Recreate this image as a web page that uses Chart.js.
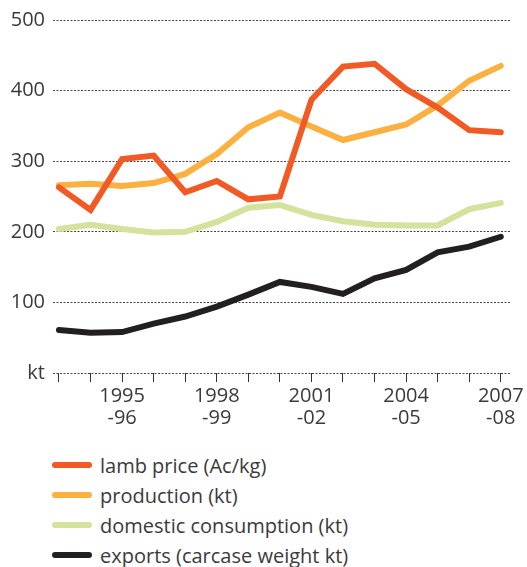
<!DOCTYPE html>
<html>
<head>
<meta charset="utf-8">
<script src="https://cdn.jsdelivr.net/npm/chart.js@4.4.1/dist/chart.umd.min.js"></script>
<style>
    body { margin: 0; background: #fff; font-family: "Open Sans", sans-serif; }
    .wrap { position: relative; width: 527px; height: 567px; }
    .chart-box { position: absolute; left: 0; top: 0; width: 527px; height: 432px; }
    .legend { position: absolute; left: 52px; top: 450px; }
    .legend-item { display: flex; align-items: center; height: 30px; font-size: 20px; color: #3a3a3a; }
    .legend-item .swatch { width: 40px; height: 6px; border-radius: 3px; margin-right: 8px; }
</style>
</head>
<body>
<div class="wrap">
    <div class="chart-box"><canvas id="lambChart"></canvas></div>
    <div class="legend" id="legend"></div>
</div>
<script>
    // Seasons 1993-94 .. 2007-08
    const seasons = ['1993-94', '1994-95', '1995-96', '1996-97', '1997-98', '1998-99', '1999-00',
        '2000-01', '2001-02', '2002-03', '2003-04', '2004-05', '2005-06', '2006-07', '2007-08'];
    const labelledSeasons = ['1995-96', '1998-99', '2001-02', '2004-05', '2007-08'];

    const lambPrice = [263, 231, 303, 308, 256, 272, 246, 250, 387, 434, 438, 402, 376, 344, 341];
    const production = [266, 268, 265, 269, 282, 310, 348, 369, 349, 330, 341, 352, 379, 414, 435];
    const consumption = [204, 210, 204, 199, 200, 214, 234, 238, 224, 215, 210, 209, 209, 232, 241];
    const exportsKt = [61, 57, 58, 70, 80, 94, 111, 129, 122, 112, 134, 146, 171, 179, 193];

    const yTicks = [0, 100, 200, 300, 400, 500];

    const toPoints = values => values.map((v, i) => ({ x: i, y: v }));

    function makeSet(label, values, color) {
        return {
            label: label,
            data: toPoints(values),
            borderColor: color,
            backgroundColor: color,
            borderWidth: 6,
            borderCapStyle: 'round',
            borderJoinStyle: 'miter',
            pointRadius: 0,
            tension: 0,
            fill: false
        };
    }

    const textColor = '#3a3a3a';
    const ctx = document.getElementById('lambChart').getContext('2d');
    const lambChart = new Chart(ctx, {
        type: 'line',
        data: {
            datasets: [
                makeSet('lamb price (Ac/kg)', lambPrice, '#f15a24'),
                makeSet('production (kt)', production, '#fbb040'),
                makeSet('domestic consumption (kt)', consumption, '#d3e29c'),
                makeSet('exports (carcase weight kt)', exportsKt, '#231f20')
            ]
        },
        options: {
            responsive: true,
            maintainAspectRatio: false,
            animation: false,
            layout: { padding: { top: 15, right: 16, bottom: 0, left: 0 } },
            plugins: {
                legend: { display: false },
                tooltip: { enabled: false }
            },
            scales: {
                x: {
                    type: 'linear',
                    min: -0.19,
                    max: 14.32,
                    border: { display: false },
                    grid: {
                        drawOnChartArea: false,
                        drawTicks: true,
                        tickLength: 9,
                        color: '#333'
                    },
                    ticks: {
                        stepSize: 1,
                        includeBounds: false,
                        autoSkip: false,
                        maxRotation: 0,
                        padding: 3,
                        color: textColor,
                        font: { family: 'Open Sans', size: 20, lineHeight: 1.1 },
                        callback: value => {
                            const s = seasons[value];
                            if (!labelledSeasons.includes(s)) return '';
                            return [s.slice(0, 4), '-' + s.slice(5)];
                        }
                    }
                },
                y: {
                    min: 0,
                    max: 500,
                    afterFit: scale => { scale.width = 53; },
                    afterBuildTicks: scale => { scale.ticks = yTicks.map(v => ({ value: v })); },
                    // dotted grid lines
                    border: { display: false, dash: [2, 1.5] },
                    grid: {
                        drawTicks: false,
                        color: '#444',
                        lineWidth: 1
                    },
                    ticks: {
                        padding: 8,
                        color: textColor,
                        font: { family: 'Open Sans', size: 20 },
                        callback: value => value === 0 ? 'kt' : value
                    }
                }
            }
        }
    });

    // HTML legend, one item per row
    const legendEl = document.getElementById('legend');
    lambChart.data.datasets.forEach(ds => {
        const item = document.createElement('div');
        item.className = 'legend-item';
        item.innerHTML = `<span class="swatch" style="background:${ds.borderColor}"></span><span>${ds.label}</span>`;
        legendEl.appendChild(item);
    });
</script>
</body>
</html>
